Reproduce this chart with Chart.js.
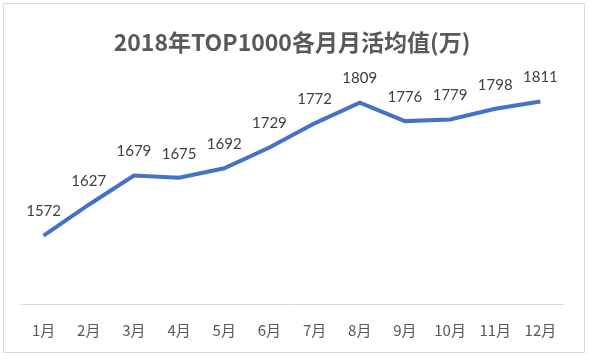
<!DOCTYPE html>
<html>
<head>
<meta charset="utf-8">
<script src="https://cdn.jsdelivr.net/npm/chart.js@4"></script>
<style>
  html, body { margin: 0; padding: 0; background: #fff; }
  #wrap { width: 589px; height: 360px; }
</style>
</head>
<body>
<div id="wrap"><canvas id="mauChart"></canvas></div>
<script>
// 2018年TOP1000各月月活均值(万)
const months = ['1月', '2月', '3月', '4月', '5月', '6月', '7月', '8月', '9月', '10月', '11月', '12月'];
const mauValues = [1572, 1627, 1679, 1675, 1692, 1729, 1772, 1809, 1776, 1779, 1798, 1811];

// 外框 + 数据标签
const framePlugin = {
    id: 'frame',
    beforeDraw(chart) {
        const ctx = chart.ctx;
        ctx.save();
        ctx.fillStyle = '#ffffff';
        ctx.fillRect(0, 0, chart.width, chart.height);
        ctx.strokeStyle = '#d9d9d9';
        ctx.lineWidth = 1;
        ctx.strokeRect(3.5, 3.5, 581, 349);
        ctx.restore();
    }
};

const labelPlugin = {
    id: 'pointLabels',
    afterDatasetsDraw(chart) {
        const ctx = chart.ctx;
        const meta = chart.getDatasetMeta(0);
        ctx.save();
        ctx.font = '15px Lato, "Noto Sans CJK SC", sans-serif';
        ctx.fillStyle = '#404040';
        ctx.textAlign = 'center';
        ctx.textBaseline = 'middle';
        meta.data.forEach((pt, i) => {
            ctx.fillText(mauValues[i], pt.x, pt.y - 24);
        });
        ctx.restore();
    }
};

const ctx = document.getElementById('mauChart').getContext('2d');
new Chart(ctx, {
    type: 'line',
    data: {
        labels: months,
        datasets: [{
            data: mauValues,
            borderColor: '#4472c4',
            borderWidth: 4,
            pointRadius: 0,
            tension: 0,
            fill: false
        }]
    },
    options: {
        responsive: true,
        maintainAspectRatio: false,
        animation: false,
        layout: {
            padding: { top: 14, bottom: 12, left: 21, right: 26 }
        },
        plugins: {
            legend: { display: false },
            tooltip: { enabled: false },
            title: {
                display: true,
                text: '2018年TOP1000各月月活均值(万)',
                color: '#595959',
                font: { family: '"Noto Sans CJK SC", sans-serif', size: 23, weight: 'bold' },
                padding: { top: 14, bottom: 24 }
            }
        },
        scales: {
            x: {
                offset: true,
                grid: { display: false },
                border: { display: true, color: '#d9d9d9', width: 1 },
                ticks: {
                    color: '#595959',
                    padding: 9,
                    font: { family: '"Noto Sans CJK SC", sans-serif', size: 15 }
                }
            },
            y: {
                display: false,
                min: 1450,
                max: 1850
            }
        }
    },
    plugins: [framePlugin, labelPlugin]
});
</script>
</body>
</html>
